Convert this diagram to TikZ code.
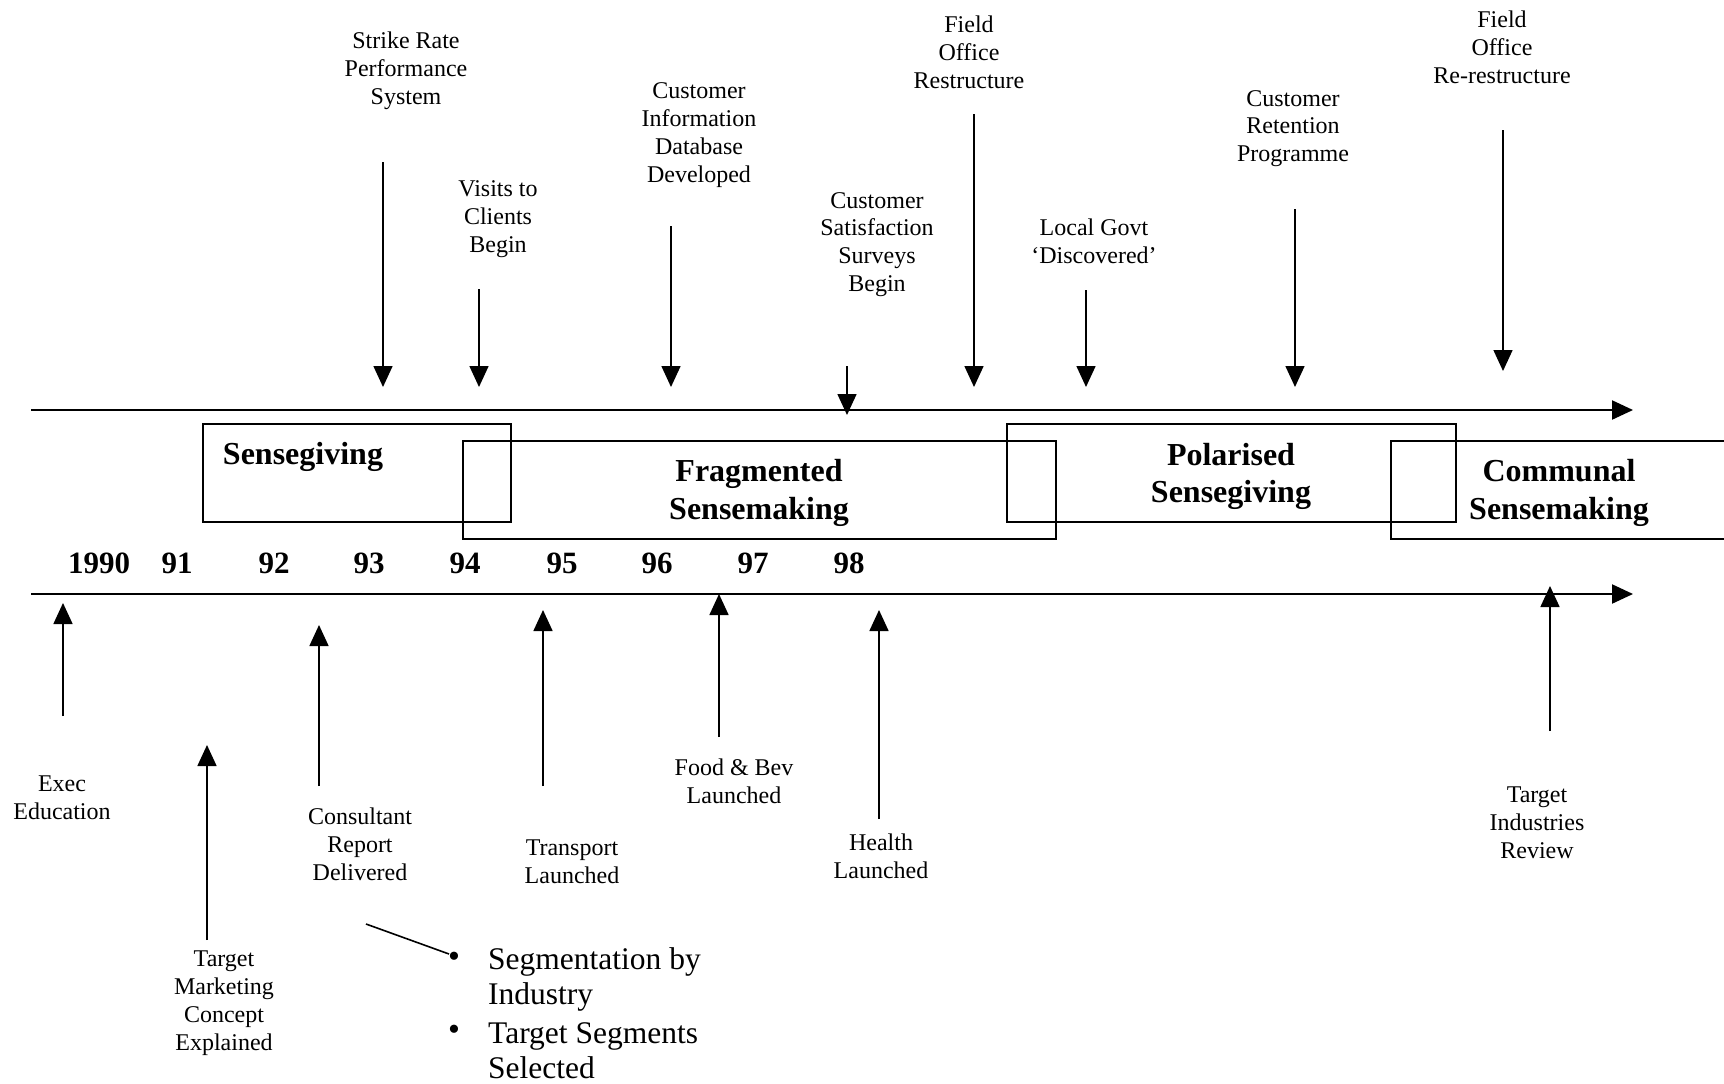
\documentclass[tikz,border=0pt]{standalone}
\usepackage{fontspec}
\setmainfont{Liberation Serif}
\usetikzlibrary{arrows.meta}

\begin{document}
\begin{tikzpicture}[x=1pt,y=-1pt,
    axis/.style={line width=2.2pt,-{Triangle[width=19pt,length=21pt]}},
    evt/.style={line width=1.6pt,-{Triangle[width=19pt,length=21pt]}},
    evtlbl/.style={align=center,inner sep=0pt,font=\fontsize{24}{27.8}\selectfont},
    yearlbl/.style={inner sep=0pt,font=\bfseries\fontsize{31}{36}\selectfont},
    phasebox/.style={draw,line width=1.6pt,inner sep=0pt,minimum height=98pt},
    phaselbl/.style={align=center,inner sep=0pt,font=\bfseries\fontsize{32}{37.4}\selectfont},
    bullbl/.style={align=left,anchor=west,inner sep=0pt,font=\fontsize{31.5}{35}\selectfont}]
    \useasboundingbox (0,0) rectangle (1724,1084);

    % the two time lines
    \coordinate (topL) at (31,410);
    \coordinate (topR) at (1633,410);
    \coordinate (botL) at (31,594);
    \coordinate (botR) at (1633,594);
    \draw[axis] (topL) -- (topR);
    \draw[axis] (botL) -- (botR);

    % years
    \foreach \yr/\xx in {1990/99,91/177,92/274,93/369,94/465,95/562,96/657,97/753,98/849}
        \node[yearlbl] (y\yr) at (\xx,563) {\yr};

    % phases
    \node[phasebox,minimum width=308pt] (sgbox) at (357,473) {};
    \node[phaselbl] (sglbl) at (303,457) {Sensegiving};
    \node[phasebox,minimum width=593pt] (fsbox) at (759.5,490) {};
    \node[phaselbl] (fslbl) at (759,493) {Fragmented\\Sensemaking};
    \node[phasebox,minimum width=449pt] (psbox) at (1231.5,473) {};
    \node[phaselbl] (pslbl) at (1231,476.5) {Polarised\\Sensegiving};
    \node[phasebox,minimum width=336pt] (csbox) at (1559,490) {};
    \node[phaselbl] (cslbl) at (1559,493) {Communal\\Sensemaking};

    % events above the line
    \node[evtlbl] (srs) at (406,71) {Strike Rate\\Performance\\System};
    \node[evtlbl] (vtc) at (498,219) {Visits to\\Clients\\Begin};
    \node[evtlbl] (cid) at (699,135) {Customer\\Information\\Database\\Developed};
    \node[evtlbl] (css) at (877,244.5) {Customer\\Satisfaction\\Surveys\\Begin};
    \node[evtlbl] (for) at (969,52) {Field\\Office\\Restructure};
    \node[evtlbl] (lgd) at (1094,241) {Local Govt\\‘Discovered’};
    \node[evtlbl] (crp) at (1293,128.5) {Customer\\Retention\\Programme};
    \node[evtlbl] (forr) at (1502,47) {Field\\Office\\Re-restructure};
    \foreach \nm/\xx/\ya/\yb in {srs/383/162/387,vtc/479/289/387,cid/671/226/387,
        css/847/366/415,for/974/114/387,lgd/1086/290/387,crp/1295/209/387,forr/1503/130/371}
    {
        \coordinate (\nm a) at (\xx,\ya);
        \coordinate (\nm b) at (\xx,\yb);
        \draw[evt] (\nm a) -- (\nm b);
    }

    % events below the line
    \node[evtlbl] (exec) at (62,798) {Exec\\Education};
    \node[evtlbl] (tmc) at (224,1003) {Target\\Marketing\\Concept\\Explained};
    \node[evtlbl] (crd) at (360,844) {Consultant\\Report\\Delivered};
    \node[evtlbl] (trn) at (572,861.5) {Transport\\Launched};
    \node[evtlbl] (fnb) at (734,781) {Food \& Bev\\Launched};
    \node[evtlbl] (hlt) at (881,856) {Health\\Launched};
    \node[evtlbl] (tir) at (1537,823) {Target\\Industries\\Review};
    \foreach \nm/\xx/\ya/\yb in {exec/63/716/603,tmc/207/940/745,crd/319/786/625,
        trn/543/786/610,fnb/719/737/594,hlt/879/819/610,tir/1550/731/586}
    {
        \coordinate (\nm a) at (\xx,\ya);
        \coordinate (\nm b) at (\xx,\yb);
        \draw[evt] (\nm a) -- (\nm b);
    }

    % what the report said
    \node[inner sep=0pt,font=\fontsize{34}{36}\selectfont] (bul1) at (454,960) {\textbullet};
    \node[inner sep=0pt,font=\fontsize{34}{36}\selectfont] (bul2) at (454,1033) {\textbullet};
    \node[bullbl] (seg) at (488,979) {Segmentation by\\Industry};
    \node[bullbl] (tss) at (488,1050.5) {Target Segments\\Selected};
    \coordinate (crdc) at (366,924);
    \coordinate (bulc) at (449,954);
    \draw[line width=1.6pt] (crdc) -- (bulc);
\end{tikzpicture}
\end{document}
